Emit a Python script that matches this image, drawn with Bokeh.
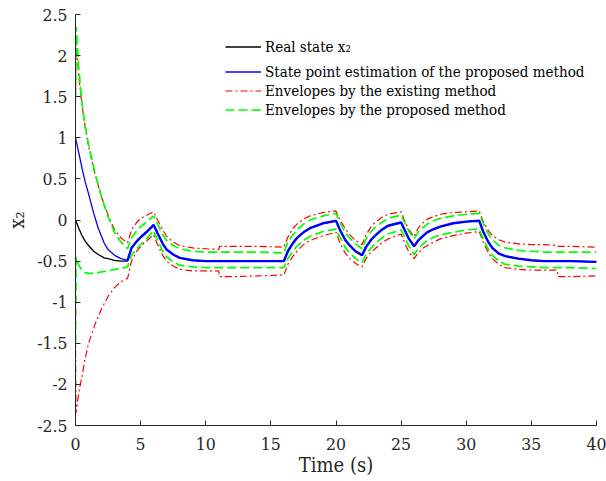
from bokeh.plotting import figure
from bokeh.models import Legend, LegendItem, FixedTicker
from bokeh.embed import file_html
from bokeh.resources import INLINE

# ---------------- data ----------------
x_ticks = [0, 5, 10, 15, 20, 25, 30, 35, 40]
y_ticks = [-2.5, -2, -1.5, -1, -0.5, 0, 0.5, 1, 1.5, 2, 2.5]
y_tick_labels = ["-2.5", "-2", "-1.5", "-1", "-0.5", "0", "0.5", "1", "1.5", "2", "2.5"]

legend_labels = ["Real state x\u2082", "State point estimation of the proposed method",
                 "Envelopes by the existing method", "Envelopes by the proposed method"]

t_est = [0, 0.25, 0.5, 0.75, 1, 1.4, 1.75, 2.2, 2.5, 3, 3.5, 4,
         4.3, 4.7, 5, 5.5, 6,
         6.3, 6.7, 7, 7.5, 8, 9, 10, 12, 14, 16,
         16.3, 16.7, 17, 17.5, 18, 19, 20,
         20.3, 20.7, 21, 21.5, 22,
         22.3, 22.7, 23, 23.5, 24, 25,
         25.3, 25.6, 26,
         26.3, 26.7, 27, 27.5, 28, 29, 30, 31,
         31.3, 31.7, 32, 32.5, 33, 34, 35, 36, 38, 40]
x2_real = [0, -0.1, -0.19, -0.26, -0.31, -0.38, -0.42, -0.46, -0.47, -0.49, -0.5, -0.5,
           -0.34, -0.26, -0.21, -0.14, -0.06,
           -0.16, -0.29, -0.36, -0.42, -0.46, -0.49, -0.5, -0.5, -0.5, -0.5,
           -0.38, -0.28, -0.22, -0.15, -0.1, -0.04, -0.01,
           -0.12, -0.24, -0.3, -0.38, -0.43,
           -0.33, -0.24, -0.19, -0.12, -0.07, -0.03,
           -0.13, -0.23, -0.32,
           -0.25, -0.19, -0.15, -0.11, -0.08, -0.04, -0.02, -0.01,
           -0.14, -0.27, -0.34, -0.41, -0.44, -0.47, -0.49, -0.5, -0.5, -0.51]
x2_est = [1.0, 0.82, 0.63, 0.46, 0.32, 0.08, -0.1, -0.28, -0.36, -0.43, -0.47, -0.49,
          -0.34, -0.26, -0.21, -0.14, -0.06,
          -0.16, -0.29, -0.36, -0.42, -0.46, -0.49, -0.5, -0.5, -0.5, -0.5,
          -0.38, -0.28, -0.22, -0.15, -0.1, -0.04, -0.01,
          -0.12, -0.24, -0.3, -0.38, -0.43,
          -0.33, -0.24, -0.19, -0.12, -0.07, -0.03,
          -0.13, -0.23, -0.32,
          -0.25, -0.19, -0.15, -0.11, -0.08, -0.04, -0.02, -0.01,
          -0.14, -0.27, -0.34, -0.41, -0.44, -0.47, -0.49, -0.5, -0.5, -0.51]

t_exist = [0, 0.03, 0.25, 0.5, 0.75, 1, 1.5, 2, 2.5, 3, 3.5, 4,
           4.3, 4.7, 5, 5.5, 6,
           6.3, 6.7, 7, 7.5, 8, 9, 10, 11, 11.05, 12, 14, 16,
           16.3, 16.7, 17, 17.5, 18, 19, 20,
           20.3, 20.7, 21, 21.5, 22,
           22.3, 22.7, 23, 23.5, 24, 25,
           25.3, 25.6, 26,
           26.3, 26.7, 27, 27.5, 28, 29, 30, 31,
           31.3, 31.7, 32, 32.5, 33, 34, 35, 36, 37, 37.05, 38, 40]
exist_upper = [1.4, 2.2, 1.75, 1.4, 1.12, 0.9, 0.55, 0.28, 0.06, -0.12, -0.22, -0.28,
               -0.12, -0.03, 0.02, 0.06, 0.1,
               0.0, -0.12, -0.2, -0.27, -0.31, -0.34, -0.35, -0.36, -0.32, -0.32, -0.32, -0.33,
               -0.21, -0.1, -0.05, 0.01, 0.05, 0.09, 0.11,
               0.0, -0.1, -0.17, -0.25, -0.3,
               -0.18, -0.08, -0.03, 0.03, 0.07, 0.1,
               -0.02, -0.12, -0.2,
               -0.1, -0.03, 0.01, 0.04, 0.07, 0.09, 0.1, 0.11,
               -0.02, -0.13, -0.19, -0.24, -0.27, -0.29, -0.3, -0.3, -0.31, -0.32, -0.32, -0.33]
exist_lower = [-1.4, -2.35, -2.1, -1.9, -1.68, -1.5, -1.27, -1.08, -0.93, -0.82, -0.75, -0.71,
               -0.5, -0.38, -0.32, -0.25, -0.18,
               -0.3, -0.43, -0.5, -0.56, -0.6, -0.62, -0.62, -0.62, -0.69, -0.69, -0.68, -0.67,
               -0.54, -0.44, -0.38, -0.3, -0.25, -0.19, -0.15,
               -0.28, -0.4, -0.46, -0.53, -0.57,
               -0.47, -0.39, -0.35, -0.28, -0.23, -0.17,
               -0.29, -0.39, -0.47,
               -0.4, -0.34, -0.31, -0.27, -0.23, -0.19, -0.16, -0.14,
               -0.27, -0.4, -0.47, -0.54, -0.58, -0.6, -0.61, -0.61, -0.61, -0.69, -0.69, -0.68]

t_prop = [0, 0.05, 0.25, 0.5, 0.75, 1, 1.5, 2, 2.5, 3, 3.5, 4,
          4.3, 4.7, 5, 5.5, 6,
          6.3, 6.7, 7, 7.5, 8, 9, 10, 12, 14, 16,
          16.3, 16.7, 17, 17.5, 18, 19, 20,
          20.3, 20.7, 21, 21.5, 22,
          22.3, 22.7, 23, 23.5, 24, 25,
          25.3, 25.6, 26,
          26.3, 26.7, 27, 27.5, 28, 29, 30, 31,
          31.3, 31.7, 32, 32.5, 33, 34, 35, 36, 38, 40]
prop_upper = [1.5, 2.35, 1.85, 1.42, 1.14, 0.92, 0.57, 0.28, 0.04, -0.15, -0.27, -0.35,
              -0.22, -0.13, -0.08, -0.02, 0.05,
              -0.05, -0.18, -0.25, -0.31, -0.35, -0.38, -0.39, -0.39, -0.39, -0.4,
              -0.27, -0.18, -0.12, -0.05, 0.0, 0.05, 0.08,
              -0.03, -0.15, -0.21, -0.29, -0.35,
              -0.23, -0.14, -0.09, -0.03, 0.02, 0.06,
              -0.04, -0.14, -0.23,
              -0.15, -0.09, -0.05, -0.01, 0.02, 0.05, 0.07, 0.08,
              -0.04, -0.17, -0.24, -0.31, -0.34, -0.37, -0.38, -0.39, -0.39, -0.39]
prop_lower = [-1.5, -0.45, -0.55, -0.61, -0.64, -0.65, -0.65, -0.63, -0.62, -0.6, -0.59, -0.57,
              -0.43, -0.35, -0.3, -0.22, -0.13,
              -0.25, -0.38, -0.45, -0.51, -0.55, -0.57, -0.58, -0.58, -0.58, -0.58,
              -0.47, -0.38, -0.32, -0.25, -0.2, -0.14, -0.11,
              -0.21, -0.33, -0.39, -0.47, -0.52,
              -0.42, -0.34, -0.29, -0.22, -0.17, -0.12,
              -0.22, -0.32, -0.42,
              -0.35, -0.29, -0.25, -0.21, -0.18, -0.15, -0.12, -0.11,
              -0.23, -0.36, -0.43, -0.5, -0.54, -0.56, -0.57, -0.58, -0.58, -0.59]

# ---------------- figure ----------------
FONT = "DejaVu Serif Condensed"
AX = "#262626"

p = figure(width=606, height=481, output_backend="svg", toolbar_location=None,
           x_range=(0, 40), y_range=(-2.5, 2.5),
           min_border_left=75, min_border_right=10, min_border_top=14, min_border_bottom=56)
p.xgrid.visible = False
p.ygrid.visible = False
p.outline_line_color = None
p.background_fill_color = "white"

for ax in (p.xaxis[0], p.yaxis[0]):
    ax.axis_line_color = AX
    ax.axis_line_width = 1
    ax.major_tick_line_color = AX
    ax.major_tick_in = 5
    ax.major_tick_out = 0
    ax.minor_tick_line_color = None
    ax.major_label_text_font = FONT
    ax.major_label_text_font_size = "17.5px"
    ax.major_label_text_color = AX
    ax.axis_label_text_font = FONT
    ax.axis_label_text_font_style = "normal"
    ax.axis_label_text_font_size = "20px"
    ax.axis_label_text_color = AX
p.xaxis.ticker = FixedTicker(ticks=x_ticks)
p.yaxis.ticker = FixedTicker(ticks=y_ticks)
p.yaxis.major_label_overrides = {v: s for v, s in zip(y_ticks, y_tick_labels)}
p.xaxis.major_label_standoff = 12
p.yaxis.major_label_standoff = 8
p.xaxis.axis_label = "Time (s)"
p.xaxis.axis_label_standoff = 0
p.yaxis.axis_label = "x\u2082"
p.yaxis.axis_label_standoff = 5

# ---------------- lines ----------------
r_real = p.line(t_est, x2_real, line_color="black", line_width=1.3)
r_est = p.line(t_est, x2_est, line_color="#0000ff", line_width=1.3)
late = [i for i, t in enumerate(t_est) if t >= 4]
p.line([t_est[i] for i in late], [x2_est[i] for i in late], line_color="#0000ff", line_width=2.4)
r_eu = p.line(t_exist, exist_upper, line_color="#ff0000", line_width=1.2, line_dash="7 3 2 3")
r_el = p.line(t_exist, exist_lower, line_color="#ff0000", line_width=1.2, line_dash="7 3 2 3")
r_pu = p.line(t_prop, prop_upper, line_color="#00ff00", line_width=1.7, line_dash="9 4")
r_pl = p.line(t_prop, prop_lower, line_color="#00ff00", line_width=1.7, line_dash="9 4")

# ---------------- legends ----------------
def make_legend(items, loc):
    lg = Legend(items=items, location=loc, orientation="vertical",
                label_text_font=FONT, label_text_font_size="15px", label_text_color="black",
                glyph_width=36, glyph_height=19, label_height=19, label_standoff=4,
                spacing=0, padding=0, margin=0,
                border_line_color=None, background_fill_alpha=0)
    return lg

leg_a = make_legend([LegendItem(label=legend_labels[0], renderers=[r_real])], (150, 369))
leg_b = make_legend([LegendItem(label=legend_labels[1], renderers=[r_est]),
                     LegendItem(label=legend_labels[2], renderers=[r_eu]),
                     LegendItem(label=legend_labels[3], renderers=[r_pu])], (150, 306))
p.add_layout(leg_a)
p.add_layout(leg_b)

open("out.html", "w").write(file_html(p, INLINE))
